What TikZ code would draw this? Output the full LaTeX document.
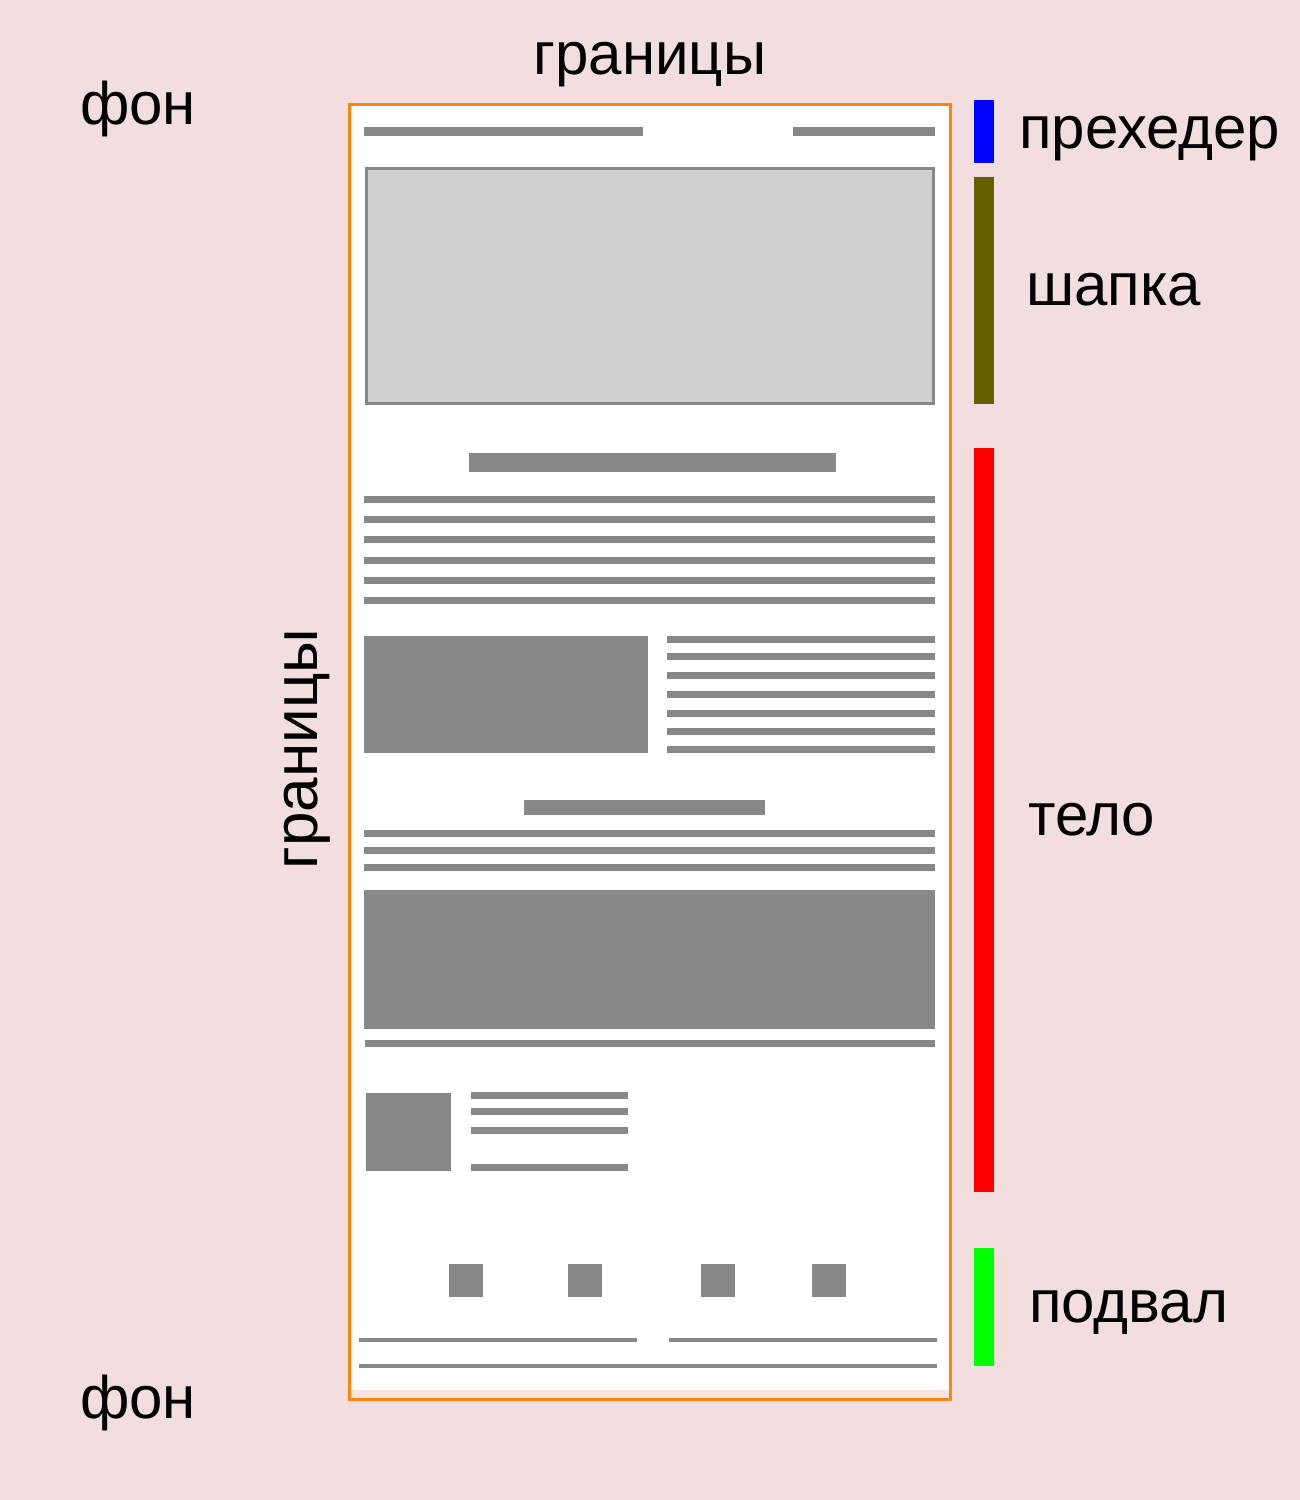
\documentclass[tikz,border=0pt]{standalone}
\usepackage{fontspec}
\setmainfont{Liberation Sans}
\definecolor{bg}{HTML}{F2DEDE}
\definecolor{gr}{HTML}{888888}
\definecolor{lightgr}{HTML}{D0D0D0}
\definecolor{frame}{HTML}{FF8410}
\definecolor{olive}{HTML}{666000}
\definecolor{pale}{HTML}{F4E4E4}
\begin{document}
\begin{tikzpicture}[x=1pt,y=-1pt,
  blk/.style={fill=gr},
  lbl/.style={font=\fontsize{60}{72}\selectfont, inner sep=0pt, anchor=base west}]
\fill[bg] (0,0) rectangle (1300,1500);
\useasboundingbox (0,0) rectangle (1300,1500);
% page
\fill[white] (349,104) rectangle (950,1390);
\fill[pale] (349,1390) rectangle (950,1399);
\draw[frame, line width=3pt] (349,104) rectangle (950,1399);
% preheader
\fill[blk] (364,127) rectangle (643,136);
\fill[blk] (793,127) rectangle (935,136);
% header image
\draw[gr, fill=lightgr, line width=3pt] (366,168) rectangle (933,403);
% heading 1
\fill[blk] (469,453) rectangle (836,472);
\foreach \y in {496,516,536,557,577,597}{\fill[blk] (364,\y) rectangle (935,\y+7);}
% image + text
\fill[blk] (364,636) rectangle (648,753);
\foreach \y in {636,653,672,691,710,728,746}{\fill[blk] (667,\y) rectangle (935,\y+7);}
% heading 2
\fill[blk] (524,800) rectangle (765,815);
\foreach \y in {830,847,864}{\fill[blk] (364,\y) rectangle (935,\y+7);}
\fill[blk] (364,890) rectangle (935,1029);
\fill[blk] (365,1040) rectangle (935,1047);
% small card
\fill[blk] (366,1093) rectangle (451,1171);
\foreach \y in {1092,1108,1127,1164}{\fill[blk] (471,\y) rectangle (628,\y+7);}
% footer icons
\foreach \x in {449,568,701,812}{\fill[blk] (\x,1264) rectangle (\x+34,1297);}
\fill[blk] (359,1338) rectangle (637,1342);
\fill[blk] (669,1338) rectangle (937,1342);
\fill[blk] (359,1364) rectangle (937,1368);
% side bars
\fill[blue] (974,100) rectangle (994,163);
\fill[olive] (974,177) rectangle (994,404);
\fill[red] (974,448) rectangle (994,1192);
\fill[green] (974,1248) rectangle (994,1366);
% labels
\node[lbl, anchor=base] (gtop) at (650,74) {границы};
\node[lbl] (fontop) at (80,124) {фон};
\node[lbl] (fonbot) at (80,1418) {фон};
\node[lbl] (pre) at (1019,148) {прехедер};
\node[lbl] (shapka) at (1026,305) {шапка};
\node[lbl] (telo) at (1028,835) {тело};
\node[lbl] (podval) at (1029,1322) {подвал};
\node[font=\fontsize{62}{74}\selectfont, inner sep=0pt, rotate=90] (gleft) at (307,749) {границы};
\end{tikzpicture}
\end{document}
